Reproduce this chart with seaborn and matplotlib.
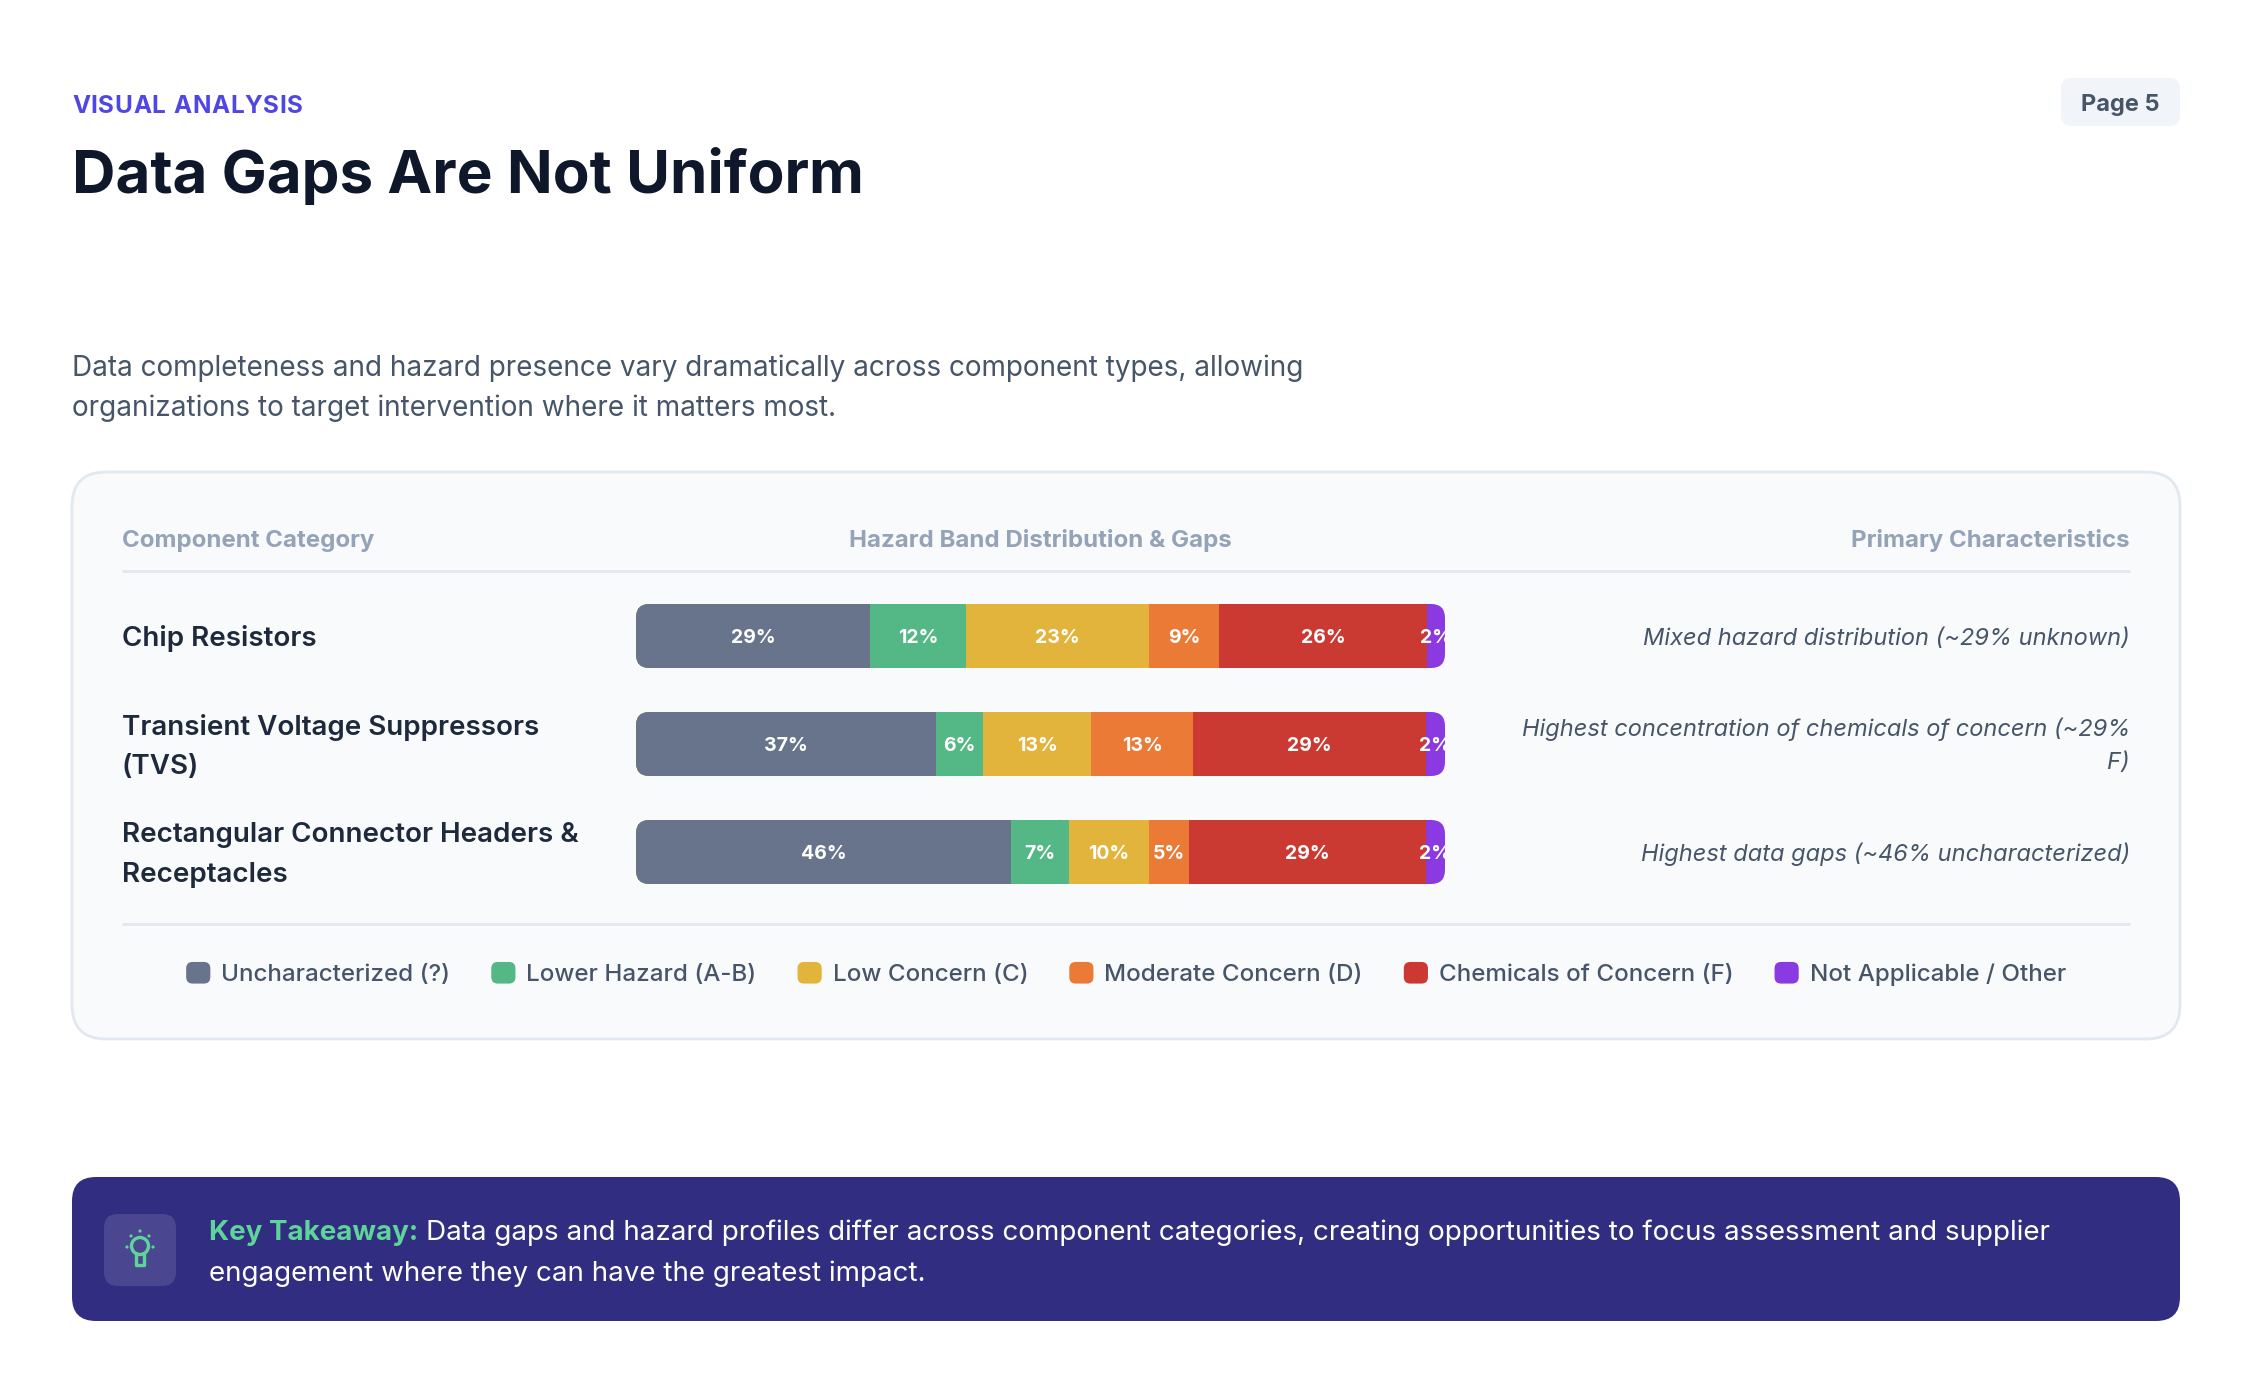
import numpy as np
import pandas as pd
import matplotlib
matplotlib.use("Agg")
import matplotlib.pyplot as plt
import seaborn as sns
from matplotlib.patches import FancyBboxPatch, Circle, Patch
from matplotlib.transforms import IdentityTransform, offset_copy
from matplotlib.legend_handler import HandlerPatch
from matplotlib import font_manager as fm

# ---------------- data ----------------
categories = ["Chip Resistors",
              "Transient Voltage Suppressors\n(TVS)",
              "Rectangular Connector Headers &\nReceptacles"]
bands = ["Uncharacterized (?)", "Lower Hazard (A-B)", "Low Concern (C)",
         "Moderate Concern (D)", "Chemicals of Concern (F)", "Not Applicable / Other"]
uncharacterized = [28.9, 37.1, 46.4]
lower_hazard = [11.9, 5.8, 7.1]
low_concern = [22.6, 13.4, 9.9]
moderate_concern = [8.7, 12.6, 5.0]
chemicals_of_concern = [25.7, 28.7, 29.2]
not_applicable = [2.2, 2.4, 2.4]
characteristics = ["Mixed hazard distribution (~29% unknown)",
                   "Highest concentration of chemicals of concern (~29%\nF)",
                   "Highest data gaps (~46% uncharacterized)"]
band_colors = ["#68748B", "#53B786", "#E2B43C", "#EA7A35", "#CB3A32", "#8B3AE2"]

# ---------------- fonts ----------------
sns.set_theme(style="white")
FAM = "Inter"
plt.rcParams["font.family"] = [FAM, "DejaVu Sans"]


def has_style(fam, style):
    return any(f.name == fam and f.style == style for f in fm.fontManager.ttflist)


ITAL = FAM if has_style(FAM, "italic") else ("Roboto" if has_style("Roboto", "italic") else "DejaVu Sans")

W, H = 2256, 1396
fig = plt.figure(figsize=(W / 100, H / 100), dpi=100)
fig.patch.set_facecolor("white")

ax_bg = fig.add_axes([0, 0, 1, 1])
ax_bg.set_xlim(0, W)
ax_bg.set_ylim(H, 0)
ax_bg.axis("off")
ax_bg.set_zorder(0)

PX = 100 / 72.0  # px per pt


def txt(x, yc, s, size, color, weight="normal", ha="left", style="normal", family=None, **kw):
    """Place text so that the cap-height centre sits at yc (pixel coords)."""
    fam = family if family is not None else [FAM, "DejaVu Sans"]
    return ax_bg.text(x, yc + 0.36 * size * PX, s, fontsize=size, color=color,
                      fontweight=weight, ha=ha, va="baseline", fontstyle=style,
                      family=fam, **kw)


def spaced(x, yc, s, size, color, weight, spacing_px):
    """Left-aligned text with extra letter spacing."""
    fig.canvas.draw()
    rend = fig.canvas.get_renderer()
    cx = x
    for ch in s:
        t = txt(cx, yc, ch, size, color, weight=weight)
        bb = t.get_window_extent(rend)
        cx += bb.width + spacing_px if ch != " " else size * PX * 0.28 + spacing_px


# ---------------- header ----------------
spaced(72, 104, "VISUAL ANALYSIS", 17.5, "#4F46E5", "bold", 0.6)
txt(72, 171, "Data Gaps Are Not Uniform", 43.3, "#0F172A", weight="bold")

badge = FancyBboxPatch((2061, 78), 119, 48, boxstyle="round,pad=0,rounding_size=10",
                       facecolor="#F1F5F9", edgecolor="none")
ax_bg.add_patch(badge)
txt(2120.5, 102, "Page 5", 17, "#475569", weight="bold", ha="center")

txt(72, 366, "Data completeness and hazard presence vary dramatically across component types, allowing",
    20.1, "#475569")
txt(72, 406, "organizations to target intervention where it matters most.", 20.1, "#475569")

# ---------------- card ----------------
card = FancyBboxPatch((72, 472), 2108, 567, boxstyle="round,pad=0,rounding_size=34",
                      facecolor="#F8FAFC", edgecolor="#E2E8F0", linewidth=2)
ax_bg.add_patch(card)
HFS = 17.3
txt(122, 538, "Component Category", HFS, "#94A3B8", weight="bold")
txt(1040, 538, "Hazard Band Distribution & Gaps", HFS, "#94A3B8", weight="bold", ha="center")
txt(2130, 538, "Primary Characteristics", HFS, "#94A3B8", weight="bold", ha="right")
ax_bg.plot([122, 2130], [571, 571], color="#E2E8F0", lw=2, solid_capstyle="butt")
ax_bg.plot([122, 2130], [924, 924], color="#E2E8F0", lw=2, solid_capstyle="butt")

# ---------------- stacked bars (seaborn) ----------------
ax = fig.add_axes([636 / W, 1 - 906 / H, 809 / W, 324 / H])
ax.set_zorder(2)
ax.patch.set_alpha(0)
series = np.array([uncharacterized, lower_hazard, low_concern,
                   moderate_concern, chemicals_of_concern, not_applicable])
cum = np.cumsum(series, axis=0)
for i in reversed(range(len(bands))):
    sns.barplot(x=cum[i], y=categories, order=categories, orient="h",
                color=band_colors[i], saturation=1, width=0.593,
                errorbar=None, ax=ax, edgecolor="none", linewidth=0)
ax.set_xlim(0, 100)
ax.set_ylim(len(categories) - 0.5, -0.5)
ax.axis("off")

# rounded clip per row, derived from the full-length bar extents
clips = {}
for p in ax.patches:
    r = int(round(p.get_y() + p.get_height() / 2))
    x0, y0 = p.get_x(), p.get_y()
    x1, y1 = x0 + p.get_width(), y0 + p.get_height()
    if r not in clips or p.get_width() > clips[r][0]:
        clips[r] = (p.get_width(), (x0, y0, x1, y1))
clip_patches = {}
for r, (_, (x0, y0, x1, y1)) in clips.items():
    (dx0, dy0) = ax.transData.transform((x0, y1))
    (dx1, dy1) = ax.transData.transform((x1, y0))
    lo, hi = min(dy0, dy1), max(dy0, dy1)
    cp = FancyBboxPatch((dx0, lo), dx1 - dx0, hi - lo,
                        boxstyle="round,pad=0,rounding_size=14",
                        transform=IdentityTransform(), facecolor="none", edgecolor="none")
    clip_patches[r] = cp
for p in ax.patches:
    r = int(round(p.get_y() + p.get_height() / 2))
    p.set_clip_path(clip_patches[r])

seg_fs = 14
lab_trans = offset_copy(ax.transData, fig=fig, x=0, y=-0.36 * seg_fs, units="points")
for i in range(len(bands)):
    for r in range(len(categories)):
        v = series[i, r]
        xc = cum[i, r] - v / 2
        t = ax.text(xc, r, f"{v:.0f}%", ha="center", va="baseline", color="white",
                    fontsize=seg_fs, fontweight="bold", transform=lab_trans, clip_on=True)
        t.set_clip_path(clip_patches[r])

# row centres in background pixel coordinates (from the bar axis scale)
row_px = []
for r in range(len(categories)):
    disp = ax.transData.transform((0, r))
    row_px.append(ax_bg.transData.inverted().transform(disp)[1])

for r, cat in enumerate(categories):
    lines = cat.split("\n")
    n = len(lines)
    for k, ln in enumerate(lines):
        yc = row_px[r] + (k - (n - 1) / 2) * 39
        txt(122, yc, ln, 20, "#1E293B", weight="semibold")
    clines = characteristics[r].split("\n")
    n = len(clines)
    for k, ln in enumerate(clines):
        yc = row_px[r] + (k - (n - 1) / 2) * 33
        txt(2130, yc, ln, 17, "#475569", ha="right", style="italic", family=[ITAL, "DejaVu Sans"])


# ---------------- legend ----------------
class RoundHandler(HandlerPatch):
    def create_artists(self, legend, orig_handle, xdescent, ydescent, width, height, fontsize, trans):
        p = FancyBboxPatch((-xdescent, -ydescent), width, height,
                           boxstyle=f"round,pad=0,rounding_size={height * 0.3}",
                           facecolor=orig_handle.get_facecolor(), edgecolor="none", transform=trans)
        return [p]


handles = [Patch(facecolor=c, label=b) for b, c in zip(bands, band_colors)]
leg = ax_bg.legend(handles=handles, loc="center", bbox_to_anchor=(1126, 974),
                   bbox_transform=ax_bg.transData, ncol=6, frameon=False,
                   handlelength=1.0, handleheight=1.0, handletextpad=0.45,
                   columnspacing=1.7, borderpad=0,
                   prop={"family": [FAM, "DejaVu Sans"], "size": 17.4, "weight": "medium"},
                   labelcolor="#475569",
                   handler_map={Patch: RoundHandler()})

# ---------------- takeaway ----------------
box = FancyBboxPatch((72, 1177), 2108, 144, boxstyle="round,pad=0,rounding_size=24",
                     facecolor="#312E81", edgecolor="none")
ax_bg.add_patch(box)
icon = FancyBboxPatch((104, 1214), 72, 72, boxstyle="round,pad=0,rounding_size=14",
                      facecolor="white", alpha=0.12, edgecolor="none")
ax_bg.add_patch(icon)
GREEN = "#5FD49A"
ax_bg.add_patch(Circle((140, 1246), 8.5, facecolor="none", edgecolor=GREEN, lw=2.4))
ax_bg.plot([136, 136, 144, 144], [1253, 1265, 1265, 1253], color=GREEN, lw=2.4, solid_joinstyle="round")
for (x, y) in [(127, 1247), (153, 1247), (131, 1236), (149, 1236), (140, 1231)]:
    ax_bg.add_patch(Circle((x, y), 1.6, facecolor=GREEN, edgecolor="none"))

tk_fs = 20
t1 = txt(209, 1230, "Key Takeaway:", tk_fs, GREEN, weight="bold")
fig.canvas.draw()
bb = t1.get_window_extent(fig.canvas.get_renderer())
x_after = ax_bg.transData.inverted().transform((bb.x1, 0))[0] + 0.28 * tk_fs * PX
txt(x_after, 1230, "Data gaps and hazard profiles differ across component categories, creating opportunities to focus assessment and supplier",
    tk_fs, "white")
txt(209, 1271, "engagement where they can have the greatest impact.", tk_fs, "white")

fig.savefig("out.png", dpi=100, facecolor="white")
